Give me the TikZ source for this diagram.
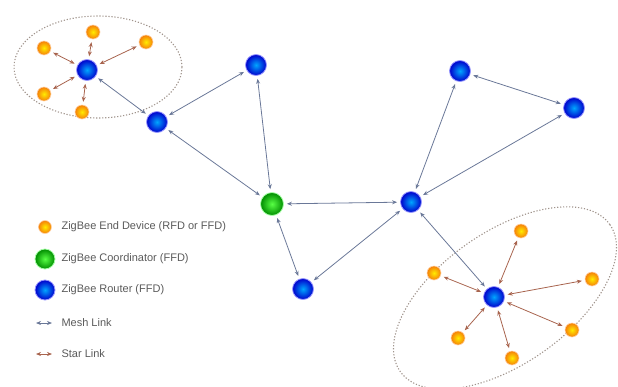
\documentclass[tikz,border=0pt]{standalone}
\usepackage{fontspec}
\setmainfont{Liberation Sans}
\usetikzlibrary{arrows.meta}
\definecolor{meshcol}{HTML}{6A7898}
\definecolor{starcol}{HTML}{A8644E}
\definecolor{ringcol}{HTML}{A0948C}
\definecolor{legcol}{HTML}{5A5A5A}

\begin{document}
\begin{tikzpicture}[x=1pt,y=-1pt,
  router/.style={circle,inner sep=0pt,minimum size=21pt,inner color=cyan!65!blue,outer color=blue!80!black,draw=blue!40!white,line width=0.8pt},
  coordnode/.style={circle,inner sep=0pt,minimum size=23pt,inner color=green!70!white!90!lime,outer color=green!55!black,draw=green!35!white,line width=0.8pt},
  enddev/.style={circle,inner sep=0pt,minimum size=14pt,inner color=yellow!85!orange,outer color=orange!85!brown,draw=orange!35!white,line width=0.6pt},
  meshlink/.style={{Stealth[length=5pt,width=4pt]}-{Stealth[length=5pt,width=4pt]},draw=meshcol,line width=0.8pt,shorten <=3pt,shorten >=3pt},
  starlink/.style={{Stealth[length=5pt,width=4pt]}-{Stealth[length=5pt,width=4pt]},draw=starcol,line width=0.8pt,shorten <=3pt,shorten >=3pt},
  ring/.style={draw=ringcol,line width=1.1pt,dash pattern=on 1.2pt off 1.8pt},
  legtext/.style={right,text=legcol,font=\fontsize{11}{13}\selectfont}]
  \useasboundingbox (0,0) rectangle (618,386);

  \draw[ring] (98,67) ellipse[x radius=84pt,y radius=51pt];
  \draw[ring,rotate around={35:(505,298)}] (505,298) ellipse[x radius=128pt,y radius=66pt];

  \node[router]    (rA) at (87,70) {};
  \node[router]    (rB) at (157,122) {};
  \node[router]    (rC) at (256,65) {};
  \node[coordnode] (zc) at (272,204) {};
  \node[router]    (rD) at (411,202) {};
  \node[router]    (rE) at (303,289) {};
  \node[router]    (rF) at (460,71) {};
  \node[router]    (rG) at (574,108) {};
  \node[router]    (rH) at (494,297) {};

  \node[enddev] (a1) at (93,32) {};
  \node[enddev] (a2) at (44,48) {};
  \node[enddev] (a3) at (146,42) {};
  \node[enddev] (a4) at (44,94) {};
  \node[enddev] (a5) at (82,112) {};

  \node[enddev] (h1) at (521,231) {};
  \node[enddev] (h2) at (434,273) {};
  \node[enddev] (h3) at (592,279) {};
  \node[enddev] (h4) at (572,330) {};
  \node[enddev] (h5) at (458,338) {};
  \node[enddev] (h6) at (512,358) {};

  \draw[meshlink] (rA) -- (rB);
  \draw[meshlink] (rB) -- (rC);
  \draw[meshlink] (rB) -- (zc);
  \draw[meshlink] (rC) -- (zc);
  \draw[meshlink] (zc) -- (rD);
  \draw[meshlink] (zc) -- (rE);
  \draw[meshlink] (rE) -- (rD);
  \draw[meshlink] (rD) -- (rF);
  \draw[meshlink] (rD) -- (rG);
  \draw[meshlink] (rF) -- (rG);
  \draw[meshlink] (rD) -- (rH);

  \foreach \e in {a1,a2,a3,a4,a5}
    \draw[starlink] (rA) -- (\e);
  \foreach \e in {h1,h2,h3,h4,h5,h6}
    \draw[starlink] (rH) -- (\e);

  % legend
  \node[enddev,minimum size=13pt]    (lgE) at (45,227) {};
  \node[coordnode,minimum size=20pt] (lgC) at (45,259) {};
  \node[router,minimum size=20pt]    (lgR) at (45,290) {};
  \coordinate (lgMa) at (33,323);
  \coordinate (lgMb) at (55,323);
  \coordinate (lgSa) at (33,354);
  \coordinate (lgSb) at (55,354);
  \draw[meshlink,line width=0.7pt] (lgMa) -- (lgMb);
  \draw[starlink,line width=0.7pt] (lgSa) -- (lgSb);
  \node[legtext] (tE) at (58,227) {ZigBee End Device (RFD or FFD)};
  \node[legtext] (tC) at (58,259) {ZigBee Coordinator (FFD)};
  \node[legtext] (tR) at (58,290) {ZigBee Router (FFD)};
  \node[legtext] (tM) at (58,323) {Mesh Link};
  \node[legtext] (tS) at (58,354) {Star Link};
\end{tikzpicture}
\end{document}
